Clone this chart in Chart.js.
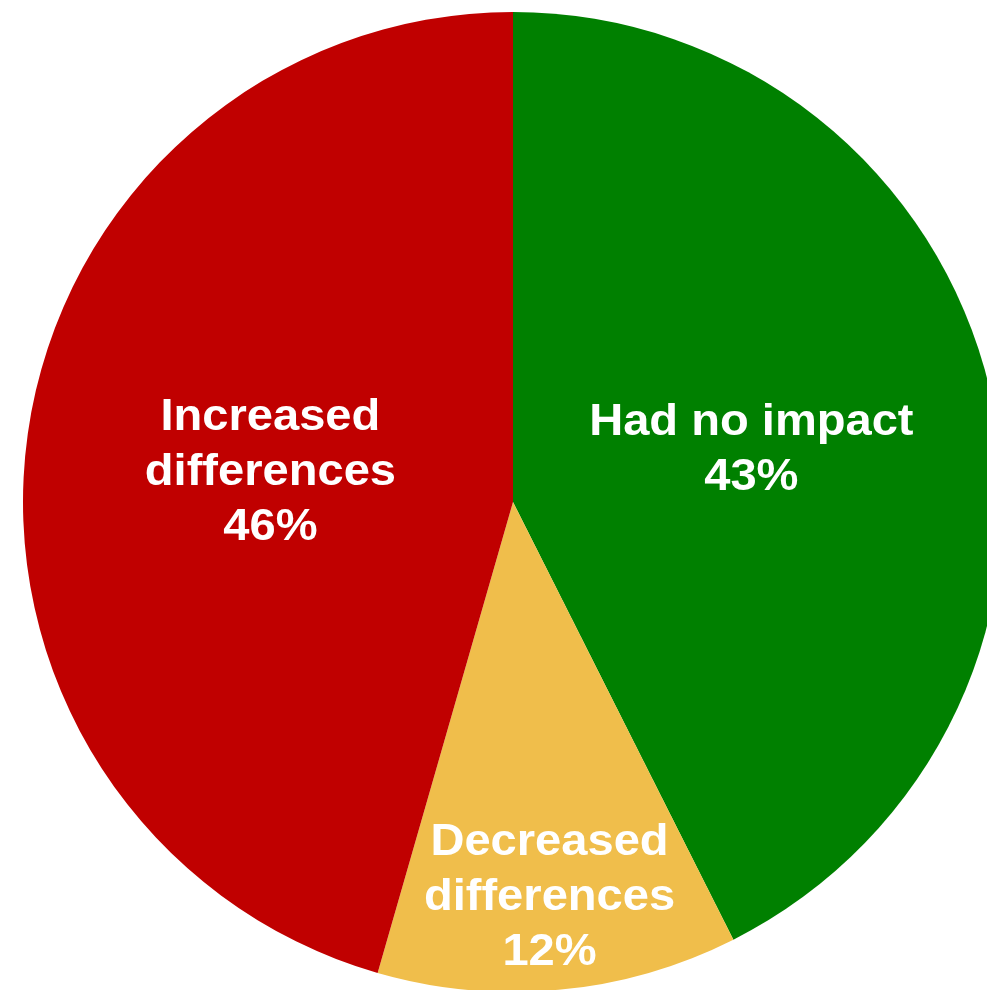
<!DOCTYPE html>
<html>
<head>
<meta charset="utf-8">
<script src="https://cdn.jsdelivr.net/npm/chart.js@4"></script>
<style>
  html, body { margin: 0; padding: 0; background: #ffffff; overflow: hidden; width: 987px; height: 990px; }
  #pie { display: block; position: absolute; left: 0; top: 0; }
</style>
</head>
<body>
<canvas id="pie" width="1026" height="1004"></canvas>
<script>
// Survey answers, clockwise from 12 o'clock
const categories = ['Had no impact', 'Decreased differences', 'Increased differences'];
const labelLines = [['Had no impact'], ['Decreased', 'differences'], ['Increased', 'differences']];
const shares = [43, 12, 46];
const sliceColors = ['#008000', '#F0BE4B', '#C00000'];
// how far out along the radius each label sits
const labelRadius = [0.5, 0.8, 0.5];

const sliceLabels = {
  id: 'sliceLabels',
  afterDatasetsDraw(chart) {
    const ctx = chart.ctx;
    const meta = chart.getDatasetMeta(0);
    ctx.save();
    ctx.fillStyle = '#ffffff';
    ctx.textAlign = 'center';
    ctx.textBaseline = 'alphabetic';
    ctx.font = 'bold 44px "Liberation Sans", Arial, sans-serif';
    const lineH = 55, capH = 31;
    meta.data.forEach((arc, i) => {
      const mid = (arc.startAngle + arc.endAngle) / 2;
      const r = arc.outerRadius * labelRadius[i];
      const cx = arc.x + Math.cos(mid) * r;
      const cy = arc.y + Math.sin(mid) * r;
      const lines = labelLines[i].concat([shares[i] + '%']);
      const n = lines.length;
      let y = cy - ((n - 1) * lineH + capH) / 2 + capH + 2;
      lines.forEach(t => {
        ctx.save();
        ctx.translate(cx, y);
        ctx.scale(1.07, 1);
        ctx.fillText(t, 0, 0);
        ctx.restore();
        y += lineH;
      });
    });
    ctx.restore();
  }
};

new Chart(document.getElementById('pie'), {
  type: 'pie',
  data: {
    labels: categories,
    datasets: [{
      data: shares,
      backgroundColor: sliceColors,
      borderWidth: 0
    }]
  },
  options: {
    responsive: false,
    animation: false,
    devicePixelRatio: 1,
    layout: { padding: 12 },
    plugins: {
      legend: { display: false },
      tooltip: { enabled: false }
    }
  },
  plugins: [sliceLabels]
});
</script>
</body>
</html>
